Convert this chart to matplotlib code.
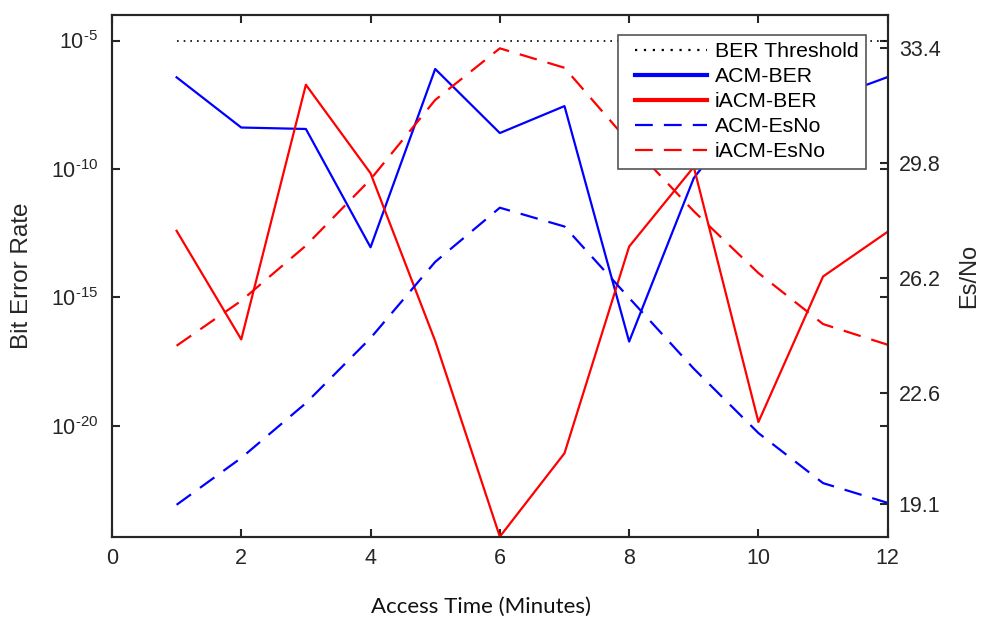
import matplotlib
matplotlib.use('Agg')
import matplotlib.pyplot as plt
from matplotlib.ticker import FixedLocator, NullLocator, FixedFormatter
from matplotlib.legend_handler import HandlerLine2D

# data
minutes = [1, 2, 3, 4, 5, 6, 7, 8, 9, 10, 11, 12]
ber_threshold = 1e-5
acm_ber = [3.7e-7, 4.1e-9, 3.6e-9, 8.9e-14, 7.8e-7, 2.5e-9, 2.8e-8, 1.9e-17,
           4.4e-11, 7.8e-8, 4.5e-8, 3.8e-7]
iacm_ber = [3.9e-13, 2.3e-17, 1.9e-7, 6.8e-11, 2.0e-17, 4.8e-25, 8.5e-22, 9.5e-14,
            1.2e-10, 1.4e-20, 6.5e-15, 3.6e-13]
acm_esno = [19.08, 20.55, 22.27, 24.31, 26.70, 28.40, 27.81, 25.57, 23.35, 21.33, 19.76, 19.14]
iacm_esno = [24.07, 25.48, 27.21, 29.29, 31.78, 33.40, 32.79, 30.45, 28.29, 26.35, 24.75, 24.10]

ber_ticks = [1e-20, 1e-15, 1e-10, 1e-5]
ber_labels = ['$10^{\u2010' + e + '}$' for e in ['20', '15', '10', '5']]
esno_ticks = [19.1, 22.6, 26.2, 29.8, 33.4]

plt.rcParams['font.family'] = 'Liberation Sans'
plt.rcParams['mathtext.fontset'] = 'custom'
plt.rcParams['mathtext.rm'] = 'Liberation Sans'
plt.rcParams['mathtext.it'] = 'Liberation Sans'
plt.rcParams['axes.linewidth'] = 1.5
plt.rcParams['axes.edgecolor'] = '#262626'

fig = plt.figure(figsize=(9.82, 6.19), dpi=100)
ax = fig.add_axes([0.114, 0.133, 0.790, 0.843])
ax2 = ax.twinx()

h0, = ax.plot([minutes[0], minutes[-1]], [ber_threshold, ber_threshold], color='black',
              lw=1.2, dashes=(1, 3), label='BER Threshold')
h1, = ax.plot(minutes, acm_ber, color='#0000ff', lw=1.6, label='ACM-BER')
h2, = ax.plot(minutes, iacm_ber, color='#ff0000', lw=1.6, label='iACM-BER')
h3, = ax2.plot(minutes, acm_esno, color='#0000ff', lw=1.6, dashes=(8, 5), label='ACM-EsNo')
h4, = ax2.plot(minutes, iacm_esno, color='#ff0000', lw=1.6, dashes=(8, 5), label='iACM-EsNo')

ax.set_yscale('log')
ax.set_ylim(4.8e-25, 1e-4)
ax.set_xlim(0, 12)
ax.set_xticks(range(0, 13, 2))
ax.yaxis.set_major_locator(FixedLocator(ber_ticks))
ax.yaxis.set_major_formatter(FixedFormatter(ber_labels))
ax.yaxis.set_minor_locator(NullLocator())

ax2.set_ylim(18.08, 34.45)
ax2.set_yticks(esno_ticks)
ax2.set_yticklabels(['%.1f' % t for t in esno_ticks])

ax.tick_params(axis='x', direction='in', top=True, length=6, width=1.5, pad=8,
               labelsize=15.5, color='#262626', labelcolor='#262626')
ax.tick_params(axis='y', direction='in', right=True, length=6, width=1.5, pad=10,
               labelsize=15.5, color='#262626', labelcolor='#262626')
ax2.tick_params(axis='y', direction='in', length=6, width=1.5, pad=8,
                labelsize=15.5, color='#262626', labelcolor='#262626')

ax.set_ylabel('Bit Error Rate', fontsize=17.5, color='#262626')
ax.yaxis.set_label_coords(-0.102, 0.5)
ax2.set_ylabel('Es/No', fontsize=17, color='#262626')
ax2.yaxis.set_label_coords(1.091, 0.5)

fig.text(481 / 982, 1 - 607 / 619, 'Access Time (Minutes)', family='Lato', fontsize=16,
         ha='center', va='center', color='#111111')

handles = [h0, h1, h2, h3, h4]
leg = ax2.legend(handles=handles, loc='upper right',
                 handler_map={h: HandlerLine2D(xpad=0.47) for h in handles},
                 bbox_to_anchor=(0.9716, 0.9617), fontsize=15.3, fancybox=False,
                 framealpha=1, edgecolor='#555555', handlelength=3.87,
                 handletextpad=0.35, labelspacing=0.28, borderpad=0.35, borderaxespad=0)
leg.get_frame().set_linewidth(1.2)
for line in leg.get_lines():
    line.set_linewidth(3 if line.get_linestyle() == '-' else 1.6)

fig.savefig('out.png', dpi=100)
